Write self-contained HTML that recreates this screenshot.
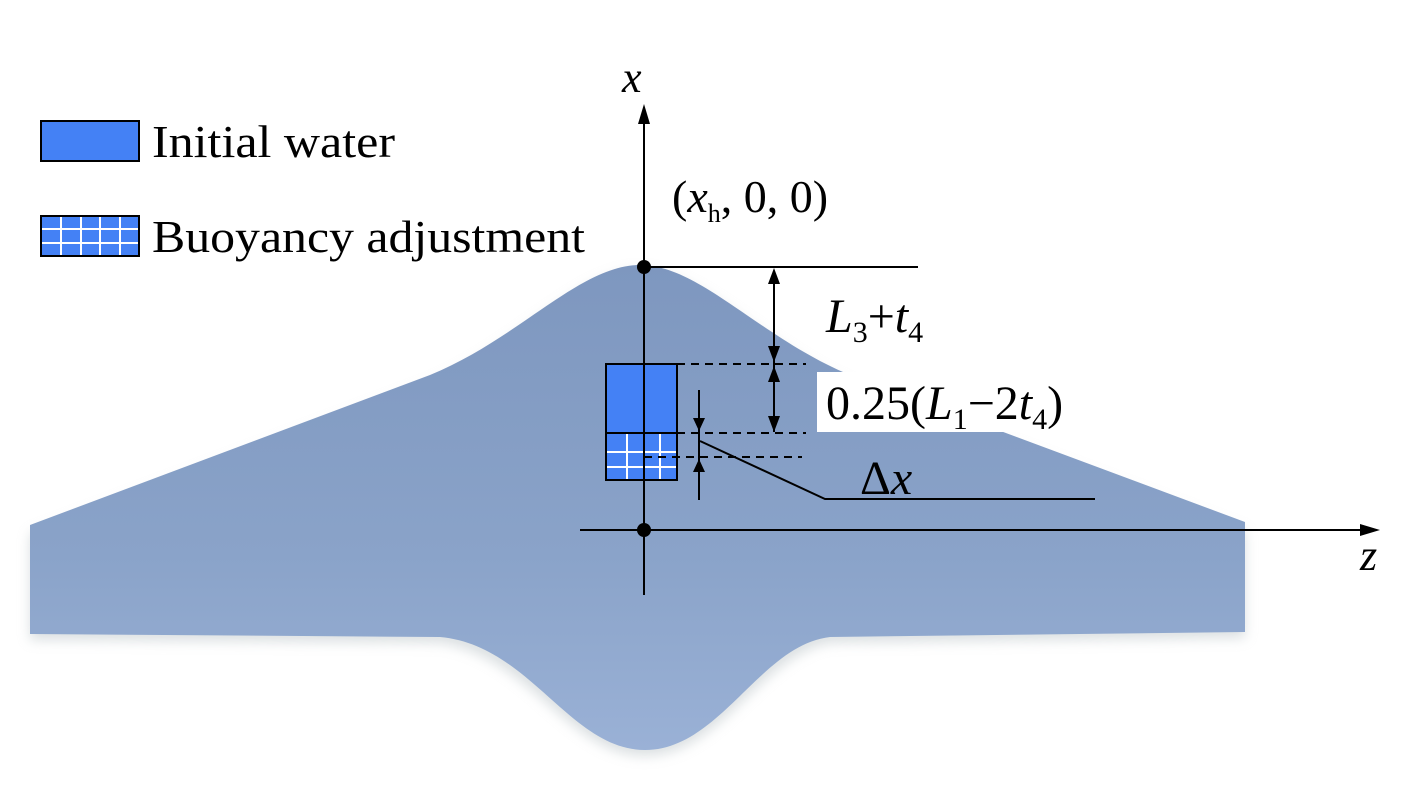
<!DOCTYPE html>
<html><head><style>
body{margin:0;background:#fff;}
svg{display:block}
text{font-family:"Liberation Serif",serif;fill:#000}
</style></head><body>
<svg width="1419" height="792" viewBox="0 0 1419 792">
<defs>
<linearGradient id="g" x1="0" y1="0" x2="0" y2="1">
<stop offset="0" stop-color="#7e97bf"/><stop offset="0.6" stop-color="#8aa3c9"/><stop offset="1" stop-color="#9ab1d6"/>
</linearGradient>
<filter id="b"><feGaussianBlur stdDeviation="6"/></filter>
</defs>
<path d="M30,528 L430,378 C520,340 580,265 640,265 C700,265 760,338 850,378 L1245,525 L1245,632 L830,637 C760,650 720,750 645,750 C570,750 530,650 440,637 L30,634 Z" fill="#b9c2c6" filter="url(#b)" opacity="0.5" transform="translate(0,6)"/>
<path d="M30,525 L430,375 C520,338 580,265 640,265 C700,265 760,338 850,375 L1245,522 L1245,632 L830,637 C760,645 720,750 645,750 C570,750 530,645 440,637 L30,634 Z" fill="url(#g)"/>
<rect x="817" y="290" width="110" height="52" fill="#fff"/>
<rect x="817" y="372" width="262" height="60" fill="#fff"/>
<rect x="41" y="121" width="98" height="40" fill="#4481f5" stroke="#000" stroke-width="2"/>
<text x="152" y="157" font-size="46" textLength="243" lengthAdjust="spacingAndGlyphs">Initial water</text>
<rect x="41" y="216" width="98" height="40" fill="#4481f5" stroke="#000" stroke-width="2"/>
<g stroke="#fff" stroke-width="2">
<line x1="61" y1="217" x2="61" y2="255"/><line x1="81" y1="217" x2="81" y2="255"/><line x1="100" y1="217" x2="100" y2="255"/><line x1="120" y1="217" x2="120" y2="255"/>
<line x1="42" y1="229" x2="138" y2="229"/><line x1="42" y1="243" x2="138" y2="243"/>
</g>
<text x="152" y="252" font-size="46" textLength="433" lengthAdjust="spacingAndGlyphs">Buoyancy adjustment</text>
<rect x="606" y="364" width="71" height="69" fill="#4481f5" stroke="#000" stroke-width="2"/>
<rect x="606" y="433" width="71" height="47" fill="#4481f5" stroke="#000" stroke-width="2"/>
<g stroke="#fff" stroke-width="2">
<line x1="627" y1="434" x2="627" y2="479"/><line x1="660" y1="434" x2="660" y2="479"/>
<line x1="607" y1="452" x2="676" y2="452"/><line x1="607" y1="467" x2="676" y2="467"/>
</g>
<g stroke="#000" stroke-width="2" fill="none">
<line x1="644" y1="112" x2="644" y2="595"/>
<line x1="580" y1="530" x2="1370" y2="530"/>
<line x1="644" y1="267" x2="918" y2="267"/>
<line x1="774" y1="275" x2="774" y2="432"/>
<line x1="699" y1="390" x2="699" y2="500"/>
<polyline points="700,441 825,499 1095,499"/>
<g stroke-dasharray="8,6">
<line x1="677" y1="364" x2="806" y2="364"/>
<line x1="677" y1="433" x2="806" y2="433"/>
<line x1="644" y1="457" x2="802" y2="457"/>
</g>
</g>
<g fill="#000">
<circle cx="644" cy="267" r="7"/><circle cx="644" cy="530" r="7"/>
<polygon points="644,104 638,124 650,124"/>
<polygon points="1380,530 1360,524 1360,536"/>
<polygon points="774,268 768,284 780,284"/>
<polygon points="774,362 768,346 780,346"/>
<polygon points="774,366 768,382 780,382"/>
<polygon points="774,432 768,416 780,416"/>
<polygon points="699,431 693,418 705,418"/>
<polygon points="699,459 693,472 705,472"/>
</g>
<text x="622" y="92" font-size="44" font-style="italic">x</text>
<text x="1360" y="570" font-size="44" font-style="italic">z</text>
<text x="672" y="212" font-size="46">(<tspan font-style="italic">x</tspan><tspan font-size="26" dy="10">h</tspan><tspan dy="-10">, 0, 0)</tspan></text>
<text x="826" y="332" font-size="48"><tspan font-style="italic">L</tspan><tspan font-size="30" dy="10">3</tspan><tspan dy="-10">+</tspan><tspan font-style="italic">t</tspan><tspan font-size="30" dy="10">4</tspan></text>
<text x="826" y="419" font-size="48">0.25(<tspan font-style="italic">L</tspan><tspan font-size="30" dy="10">1</tspan><tspan dy="-10">−2</tspan><tspan font-style="italic">t</tspan><tspan font-size="30" dy="10">4</tspan><tspan dy="-10">)</tspan></text>
<text x="860" y="494" font-size="48">Δ<tspan font-style="italic">x</tspan></text>
</svg>
</body></html>
